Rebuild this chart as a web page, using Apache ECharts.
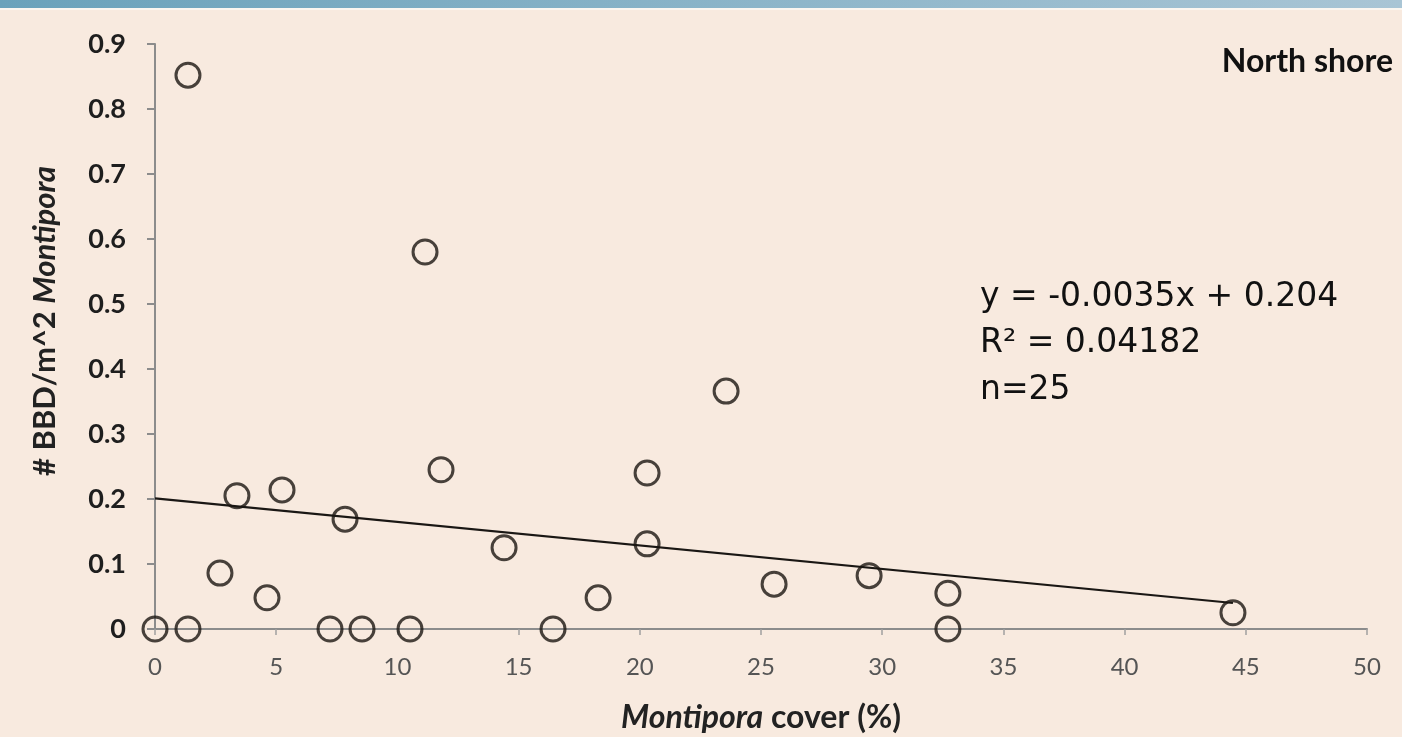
<!DOCTYPE html>
<html>
<head>
<meta charset="utf-8">
<script src="https://cdn.jsdelivr.net/npm/echarts@6/dist/echarts.min.js"></script>
<style>
  html, body { margin: 0; padding: 0; background: #f8eadf; }
  #chart { width: 1402px; height: 737px; }
</style>
</head>
<body>
<div id="chart"></div>
<script>
// Data
const coverPct = [0, 1.36, 1.36, 2.68, 3.38, 4.62, 5.24, 7.22, 7.84, 8.54, 10.52, 11.14, 11.8, 14.4, 16.42, 18.28, 20.3, 20.3, 23.56, 25.54, 29.46, 32.71, 32.71, 44.47];
const bbdDensity = [0, 0, 0.852, 0.086, 0.205, 0.048, 0.214, 0, 0.169, 0, 0, 0.58, 0.245, 0.125, 0, 0.048, 0.240, 0.131, 0.366, 0.069, 0.082, 0.055, 0, 0.025];
const trendX = [0, 44.47];
const trendY = [0.201, 0.040];
const xTicks = [0, 5, 10, 15, 20, 25, 30, 35, 40, 45, 50];
const yTicks = [0, 0.1, 0.2, 0.3, 0.4, 0.5, 0.6, 0.7, 0.8, 0.9];
const equationLines = ['y = -0.0035x + 0.204', 'R\u00B2 = 0.04182', 'n=25'];
const panelTitle = 'North shore';

const FONT = 'Lato, "Open Sans", sans-serif';
const EQFONT = '33px "DejaVu Sans", "Open Sans", sans-serif';
const chart = echarts.init(document.getElementById('chart'));

const points = coverPct.map((x, i) => [x, bbdDensity[i]]);
const trend = trendX.map((x, i) => [x, trendY[i]]);

chart.setOption({
  backgroundColor: '#f8eadf',
  animation: false,
  grid: { left: 155, right: 35, top: 44, bottom: 108, containLabel: false },
  xAxis: {
    type: 'value', min: xTicks[0], max: xTicks[xTicks.length - 1], interval: 5,
    splitLine: { show: false },
    axisLine: { lineStyle: { color: '#8c8c8c', width: 2 } },
    axisTick: { show: true, length: 6, lineStyle: { color: '#a0a0a0', width: 1.5 } },
    axisLabel: { margin: 26, color: '#555', fontFamily: FONT, fontSize: 24 }
  },
  yAxis: {
    type: 'value', min: yTicks[0], max: yTicks[yTicks.length - 1], interval: 0.1,
    splitLine: { show: false },
    axisLine: { show: true, lineStyle: { color: '#8c8c8c', width: 2 } },
    axisTick: { show: true, length: 8, lineStyle: { color: '#8c8c8c', width: 2 } },
    axisLabel: {
      margin: 29, color: '#1e1e1e', fontFamily: FONT, fontSize: 27, fontWeight: 'bold',
      formatter: v => (v === 0 ? '0' : v.toFixed(1))
    }
  },
  series: [
    {
      type: 'line', data: trend, showSymbol: false, symbol: 'none',
      lineStyle: { color: '#1a1714', width: 2.2 }, z: 2, silent: true
    },
    {
      type: 'scatter', data: points, symbol: 'circle', symbolSize: 24, clip: false,
      itemStyle: { color: 'rgba(0,0,0,0)', borderColor: '#1a1510', borderWidth: 3 },
      z: 3
    }
  ],
  graphic: [
    {
      type: 'rect', left: 0, top: 0, z: 100,
      shape: { x: 0, y: 0, width: 1402, height: 8 },
      style: {
        fill: new echarts.graphic.LinearGradient(0, 0, 1, 0, [
          { offset: 0, color: '#6aa2bb' },
          { offset: 1, color: '#a9c5d5' }
        ])
      }
    },
    {
      type: 'rect', left: 0, top: 8, z: 100,
      shape: { x: 0, y: 0, width: 1402, height: 2 },
      style: { fill: '#fbf6f0' }
    },
    {
      type: 'text', x: 1393, y: 62, z: 100,
      style: { text: panelTitle, align: 'right', verticalAlign: 'middle', fill: '#111', font: 'bold 32px ' + FONT }
    },
    {
      type: 'text', x: 980, y: 297, z: 100,
      style: { text: equationLines[0], align: 'left', verticalAlign: 'middle', fill: '#111', font: EQFONT }
    },
    {
      type: 'text', x: 980, y: 343, z: 100,
      style: { text: equationLines[1], align: 'left', verticalAlign: 'middle', fill: '#111', font: EQFONT }
    },
    {
      type: 'text', x: 980, y: 390, z: 100,
      style: { text: equationLines[2], align: 'left', verticalAlign: 'middle', fill: '#111', font: EQFONT }
    },
    {
      type: 'text', x: 761, y: 718, z: 100,
      style: {
        text: '{i|Montipora}{n| cover (%)}', align: 'center', verticalAlign: 'middle',
        rich: {
          i: { fontFamily: FONT, fontSize: 32, fontWeight: 'bold', fontStyle: 'italic', fill: '#222', color: '#222' },
          n: { fontFamily: FONT, fontSize: 32, fontWeight: 'bold', fill: '#222', color: '#222' }
        }
      }
    },
    {
      type: 'text', x: 45, y: 321, rotation: Math.PI / 2, z: 100,
      style: {
        text: '{n|# BBD/m^2 }{i|Montipora}', align: 'center', verticalAlign: 'middle',
        rich: {
          i: { fontFamily: FONT, fontSize: 31, fontWeight: 'bold', fontStyle: 'italic', fill: '#222', color: '#222' },
          n: { fontFamily: FONT, fontSize: 31, fontWeight: 'bold', fill: '#222', color: '#222' }
        }
      }
    }
  ]
});
</script>
</body>
</html>
